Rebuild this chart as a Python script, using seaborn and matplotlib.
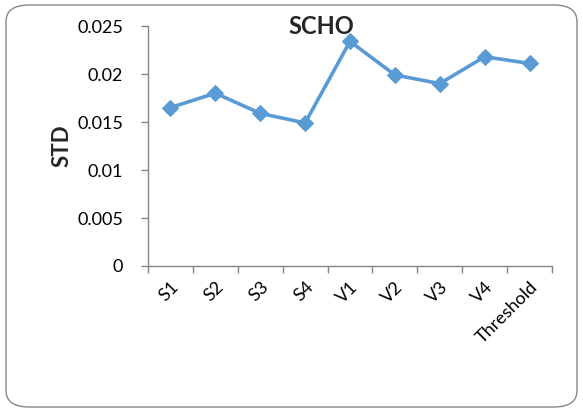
import matplotlib
matplotlib.use("Agg")
import matplotlib.pyplot as plt
import matplotlib.transforms as mtransforms
from matplotlib.patches import FancyBboxPatch
import seaborn as sns
import pandas as pd

categories = ["S1", "S2", "S3", "S4", "V1", "V2", "V3", "V4", "Threshold"]
std_values = [0.0165, 0.0180, 0.0159, 0.0149, 0.0234, 0.0199, 0.0190, 0.0218, 0.0211]
y_ticks = [0, 0.005, 0.01, 0.015, 0.02, 0.025]
y_tick_labels = ["0", "0.005", "0.01", "0.015", "0.02", "0.025"]

sns.set_theme(style="white")
plt.rcParams["font.family"] = ["Lato", "DejaVu Sans"]

df = pd.DataFrame({"pos": range(len(categories)), "std": std_values})

fig = plt.figure(figsize=(5.83, 4.12), dpi=100)
ax = fig.add_axes([148 / 583, 1 - 266 / 412, 404 / 583, 240 / 412])

line_color = "#5B9BD5"
sns.lineplot(data=df, x="pos", y="std", ax=ax, color=line_color, linewidth=2.6,
             marker="D", markersize=8, markeredgecolor=line_color, markerfacecolor=line_color)

ax.set_xlim(-0.5, len(categories) - 0.5)
ax.set_ylim(0, 0.025)
ax.set_yticks(y_ticks)
ax.set_yticklabels(y_tick_labels)

# Category boundaries carry the tick marks; labels sit at the centres
ax.set_xticks([i - 0.5 for i in range(len(categories) + 1)])
ax.set_xticklabels([])
ax.set_xticks(range(len(categories)), minor=True)
ax.set_xticklabels(categories, minor=True, rotation=45, ha="right",
                   rotation_mode="anchor", fontsize=13, color="black")
offset = mtransforms.ScaledTranslation(11 / 100, 0, fig.dpi_scale_trans)
for lbl in ax.get_xticklabels(minor=True):
    lbl.set_transform(lbl.get_transform() + offset)

ax.tick_params(axis="x", which="major", direction="out", length=5, width=1,
               color="#868686", bottom=True)
ax.tick_params(axis="x", which="minor", length=0, pad=9, bottom=True)
ax.tick_params(axis="y", direction="out", length=5, width=1, color="#868686",
               left=True, labelsize=13, labelcolor="black", pad=13)

for side in ["top", "right"]:
    ax.spines[side].set_visible(False)
for side in ["left", "bottom"]:
    ax.spines[side].set_color("#868686")
    ax.spines[side].set_linewidth(1)

ax.set_xlabel("")
ax.set_ylabel("STD", fontsize=16, fontweight="bold", labelpad=3)
ax.grid(False)

fig.text(321 / 583, 1 - 27 / 412, "SCHO", ha="center", va="center",
         fontsize=17, fontweight="bold")

border = FancyBboxPatch((6 / 583, 5 / 412), 571 / 583, 402 / 412,
                        boxstyle="round,pad=0,rounding_size=0.04",
                        transform=fig.transFigure, fill=False,
                        edgecolor="#868686", linewidth=1)
fig.patches.append(border)

fig.savefig("out.png", dpi=100)
